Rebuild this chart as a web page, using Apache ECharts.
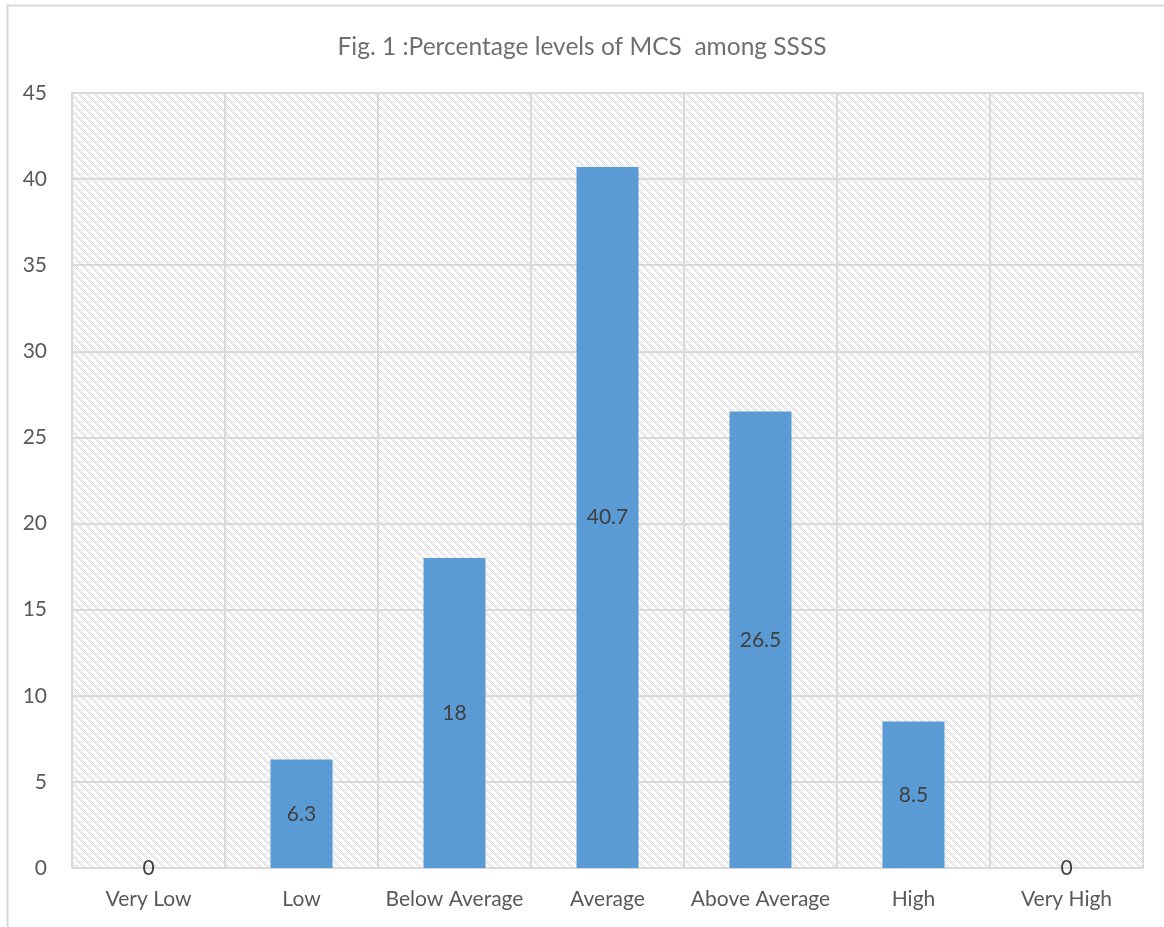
<!DOCTYPE html>
<html>
<head>
<meta charset="utf-8">
<style>
  html, body { margin: 0; padding: 0; background: #ffffff; }
  #chart { width: 1164px; height: 927px; }
</style>
<script src="https://cdn.jsdelivr.net/npm/echarts@6/dist/echarts.min.js"></script>
</head>
<body>
<div id="chart"></div>
<script>
// MCS level categories and their percentages
const categories = ['Very Low', 'Low', 'Below Average', 'Average', 'Above Average', 'High', 'Very High'];
const percentages = [0, 6.3, 18, 40.7, 26.5, 8.5, 0];
const yTicks = { min: 0, max: 45, interval: 5 };

// Dotted downward-diagonal hatch used as the plot background
function makeHatch() {
  const size = 8;
  const c = document.createElement('canvas');
  c.width = size; c.height = size;
  const ctx = c.getContext('2d');
  ctx.fillStyle = '#ffffff';
  ctx.fillRect(0, 0, size, size);
  ctx.fillStyle = '#dadada';
  for (let y = 0; y < size; y++) {
    for (let x = 0; x < size; x++) {
      const d = ((x - y) % size + size) % size;
      if ((d === 0 || d === 1 || d === 2) && (x + y) % 2 === 0) ctx.fillRect(x, y, 1, 1);
    }
  }
  // sparse dots between the diagonals
  ctx.fillRect(5, 1, 1, 1);
  ctx.fillRect(1, 5, 1, 1);
  return c;
}

const chart = echarts.init(document.getElementById('chart'), null, { renderer: 'canvas' });
const font = 'Lato, "Open Sans", "Liberation Sans", sans-serif';

chart.setOption({
  animation: false,
  backgroundColor: '#ffffff',
  title: {
    text: 'Fig. 1 :Percentage levels of MCS  among SSSS',
    left: 'center',
    top: 30,
    textStyle: { color: '#6f6f6f', fontSize: 24.5, fontWeight: 'normal', fontFamily: font }
  },
  graphic: [{
    type: 'rect',
    shape: { x: 7.5, y: 5.5, width: 1170, height: 940 },
    style: { fill: 'none', stroke: '#d9d9d9', lineWidth: 2 },
    silent: true,
    z: -10
  }],
  grid: {
    left: 72, right: 21, top: 93, bottom: 59,
    show: true,
    backgroundColor: { image: makeHatch(), repeat: 'repeat' },
    borderWidth: 0
  },
  xAxis: {
    type: 'category',
    data: categories,
    axisLine: { show: true, lineStyle: { color: '#d9d9d9', width: 2 } },
    axisTick: { show: false },
    splitLine: { show: true, interval: 0, lineStyle: { color: '#d9d9d9', width: 2 } },
    axisLabel: { interval: 0, color: '#595959', fontSize: 21, fontFamily: font, margin: 21 }
  },
  yAxis: {
    type: 'value',
    min: yTicks.min, max: yTicks.max, interval: yTicks.interval,
    axisLine: { show: true, lineStyle: { color: '#d9d9d9', width: 2 } },
    axisTick: { show: false },
    splitLine: { show: true, lineStyle: { color: '#d9d9d9', width: 2 } },
    axisLabel: { color: '#595959', fontSize: 21, fontFamily: font, margin: 25 }
  },
  series: [{
    type: 'bar',
    data: percentages,
    barWidth: 62,
    itemStyle: { color: '#5b9bd5' },
    label: {
      show: true,
      position: 'inside',
      color: '#404040',
      fontSize: 21,
      fontFamily: font
    }
  }]
});
</script>
</body>
</html>
